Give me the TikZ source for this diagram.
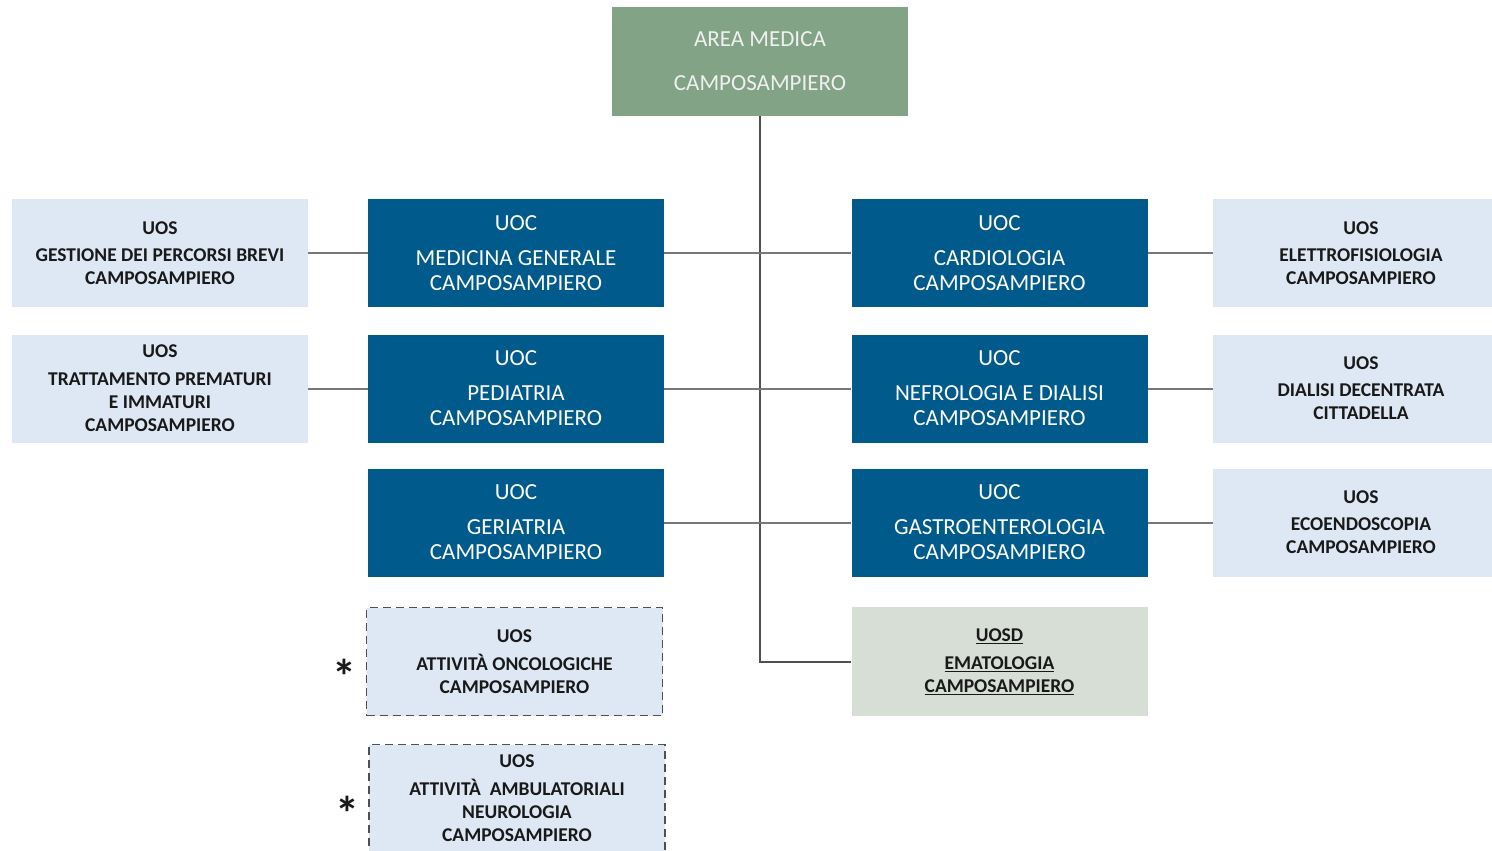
\documentclass[tikz,border=0pt]{standalone}
\usepackage{fontspec}
\setmainfont{Carlito}
\definecolor{uocblue}{RGB}{0,90,140}
\definecolor{uoslight}{RGB}{221,232,244}
\definecolor{areagreen}{RGB}{130,163,134}
\definecolor{uosdgreen}{RGB}{214,222,214}
\definecolor{linegray}{RGB}{120,120,120}
\definecolor{trunkgray}{RGB}{80,80,80}
\definecolor{txtdark}{RGB}{25,25,25}
\tikzset{
  uocbox/.style={fill=uocblue, text=white, minimum width=296, minimum height=108, inner sep=0, align=center, font=\fontsize{23}{25}\selectfont},
  uosbox/.style={fill=uoslight, text=txtdark, minimum width=296, minimum height=108, inner sep=0, align=center, font=\bfseries\fontsize{19.5}{23}\selectfont},
  dashbox/.style={uosbox, draw=trunkgray, dash pattern=on 8pt off 5pt, line width=1.3pt},
  areabox/.style={fill=areagreen, text=white!94!black, minimum width=296, minimum height=109, inner sep=0, align=center, font=\fontsize{23}{44}\selectfont},
  uosdbox/.style={fill=uosdgreen, text=txtdark, minimum width=296, minimum height=109, inner sep=0, align=center, font=\bfseries\fontsize{19.5}{23}\selectfont},
  conn/.style={draw=linegray, line width=2pt},
  trunk/.style={draw=trunkgray, line width=2pt},
  star/.style={text=txtdark, inner sep=0, font=\bfseries\fontsize{48}{48}\selectfont}
}
\begin{document}
\begin{tikzpicture}[x=1pt,y=-1pt]
\useasboundingbox (0,0) rectangle (1492,851);
\node[areabox] (area) at (760,61.5) {AREA MEDICA\\CAMPOSAMPIERO};

\node[uosbox] (uosL1) at (160,253) {UOS\\[4pt]GESTIONE DEI PERCORSI BREVI\\CAMPOSAMPIERO};
\node[uosbox] (uosL2) at (160,388.5) {UOS\\[5pt]TRATTAMENTO PREMATURI\\E IMMATURI\\CAMPOSAMPIERO};

\node[uocbox] (uocL1) at (516,253) {UOC\\[10pt]MEDICINA GENERALE\\CAMPOSAMPIERO};
\node[uocbox] (uocL2) at (516,388.5) {UOC\\[10pt]PEDIATRIA\\CAMPOSAMPIERO};
\node[uocbox] (uocL3) at (516,522.5) {UOC\\[10pt]GERIATRIA\\CAMPOSAMPIERO};

\node[uocbox] (uocR1) at (999.5,253) {UOC\\[10pt]CARDIOLOGIA\\CAMPOSAMPIERO};
\node[uocbox] (uocR2) at (999.5,388.5) {UOC\\[10pt]NEFROLOGIA E DIALISI\\CAMPOSAMPIERO};
\node[uocbox] (uocR3) at (999.5,522.5) {UOC\\[10pt]GASTROENTEROLOGIA\\CAMPOSAMPIERO};

\node[uosbox] (uosR1) at (1361,253) {UOS\\[4pt]ELETTROFISIOLOGIA\\CAMPOSAMPIERO};
\node[uosbox] (uosR2) at (1361,388.5) {UOS\\[4pt]DIALISI DECENTRATA\\CITTADELLA};
\node[uosbox] (uosR3) at (1361,522.5) {UOS\\[4pt]ECOENDOSCOPIA\\CAMPOSAMPIERO};

\node[uosdbox] (uosd) at (999.5,661.5) {\underline{UOSD}\\[5pt]\underline{EMATOLOGIA}\\\underline{CAMPOSAMPIERO}};

\node[dashbox] (dash1) at (514.5,661.5) {UOS\\[5pt]ATTIVITÀ ONCOLOGICHE\\CAMPOSAMPIERO};
\node[dashbox] (dash2) at (517,798.5) {UOS\\[5pt]ATTIVITÀ\ \ AMBULATORIALI\\NEUROLOGIA\\CAMPOSAMPIERO};

\node[star] (star1) at (344,676) {*};
\node[star] (star2) at (347,813) {*};

\coordinate (tend) at (760,661.5);
\draw[trunk] (area.south) -- (tend) -- (uosd.west);
\draw[conn] (uocL1.east) -- (uocR1.west);
\draw[conn] (uocL2.east) -- (uocR2.west);
\draw[conn] (uocL3.east) -- (uocR3.west);
\draw[conn] (uosL1.east) -- (uocL1.west);
\draw[conn] (uosL2.east) -- (uocL2.west);
\draw[conn] (uocR1.east) -- (uosR1.west);
\draw[conn] (uocR2.east) -- (uosR2.west);
\draw[conn] (uocR3.east) -- (uosR3.west);
\end{tikzpicture}
\end{document}
